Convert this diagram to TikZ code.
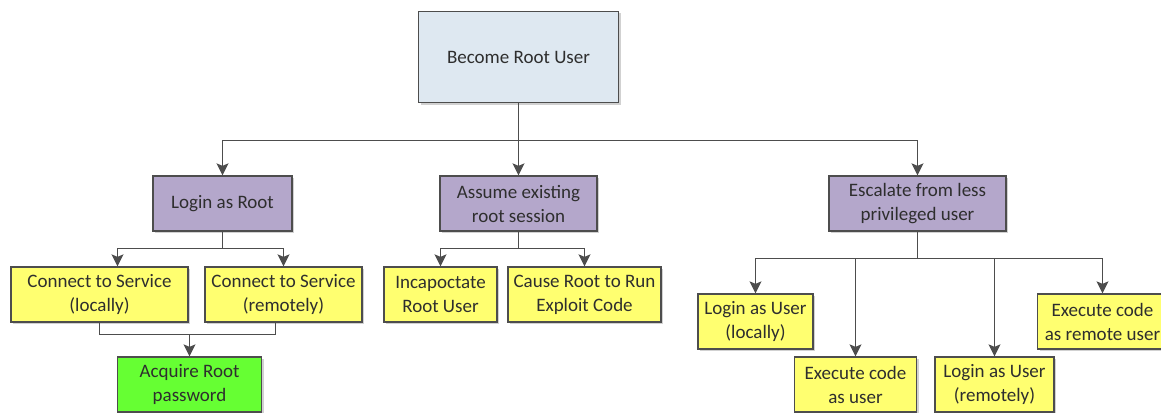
\documentclass[tikz,border=0pt]{standalone}
\usepackage{fontspec}
\setmainfont{Carlito}
\usetikzlibrary{arrows.meta,positioning,shadows}

\definecolor{linegray}{HTML}{4D4D4D}
\definecolor{textgray}{HTML}{2E2E2E}
\definecolor{rootblue}{HTML}{DEE8F1}
\definecolor{methodpurple}{HTML}{B4A7CB}
\definecolor{leafyellow}{HTML}{FFFF70}
\definecolor{keygreen}{HTML}{66FF33}

\begin{document}
\begin{tikzpicture}[%
        x=1pt, y=1pt,
        >={Stealth[length=12pt,width=12pt,inset=2.5pt]},
        on grid,
        box/.style={draw=linegray, line width=1.3pt, text=textgray,
                    align=center, inner sep=0pt, minimum height=55pt,
                    font=\fontsize{19}{24}\selectfont,
                    drop shadow={shadow xshift=2pt,shadow yshift=-2pt,
                                 fill=black,opacity=0.18}},
        rootbox/.style={box, fill=rootblue, minimum width=200pt, minimum height=91pt},
        methodbox/.style={box, fill=methodpurple},
        leafbox/.style={box, fill=leafyellow},
        keybox/.style={box, fill=keygreen},
        link/.style={draw=linegray, line width=1.3pt}
        ]

        \useasboundingbox (0,0) rectangle (1161,-412);

        \node[rootbox] (root) at (518.5,-57) {Become Root User};

        \node[methodbox, minimum width=139pt] (login)    [below left=146.5pt and 296pt of root]  {Login as Root};
        \node[methodbox, minimum width=157pt] (assume)   [below=146.5pt of root]                  {Assume existing\\root session};
        \node[methodbox, minimum width=177pt] (escalate) [below right=146.5pt and 399pt of root] {Escalate from less\\privileged user};

        \node[leafbox, minimum width=177pt] (svclocal)  [below left=91pt and 123pt of login]  {Connect to Service\\(locally)};
        \node[leafbox, minimum width=157pt] (svcremote) [below right=91pt and 61pt of login]  {Connect to Service\\(remotely)};
        \node[keybox, minimum width=144pt]  (password)  [below right=90pt and 90pt of svclocal] {Acquire Root\\password};

        \node[leafbox, minimum width=113pt] (incap) [below left=91pt and 78pt of assume]  {Incapoctate\\Root User};
        \node[leafbox, minimum width=153pt] (cause) [below right=91pt and 66pt of assume] {Cause Root to Run\\Exploit Code};

        \node[leafbox, minimum width=115pt] (userlocal)  [below left=118pt and 162pt of escalate]  {Login as User\\(locally)};
        \node[leafbox, minimum width=122pt] (execuser)   [below left=181pt and 62pt of escalate]   {Execute code\\as user};
        \node[leafbox, minimum width=119pt] (userremote) [below right=181pt and 77pt of escalate]  {Login as User\\(remotely)};
        \node[leafbox, minimum width=130pt] (execremote) [below right=118pt and 185pt of escalate] {Execute code\\as remote user};

        % fork points
        \coordinate (rootfork)   at ([yshift=-37pt]root.south);
        \coordinate (loginfork)  at ([yshift=-17pt]login.south);
        \coordinate (svcjoin)    at ([yshift=22pt]password.north);
        \coordinate (assumefork) at ([yshift=-17pt]assume.south);
        \coordinate (escfork)    at ([yshift=-27pt]escalate.south);

        % top level
        \path[link] (root.south) -- (rootfork);
        \path[link,->] (rootfork) -| (login.north);
        \path[link,->] (rootfork) -- (assume.north);
        \path[link,->] (rootfork) -| (escalate.north);

        % login as root
        \path[link] (login.south) -- (loginfork);
        \path[link,->] (loginfork) -| ([xshift=18pt]svclocal.north);
        \path[link,->] (loginfork) -| (svcremote.north);
        \path[link] (svclocal.south) |- (svcjoin);
        \path[link] ([xshift=-8pt]svcremote.south) |- (svcjoin);
        \path[link,->] (svcjoin) -- (password.north);

        % assume session
        \path[link] (assume.south) -- (assumefork);
        \path[link,->] (assumefork) -| (incap.north);
        \path[link,->] (assumefork) -| (cause.north);

        % escalate
        \path[link] (escalate.south) -- (escfork);
        \path[link,->] (escfork) -| (userlocal.north);
        \path[link,->] (escfork) -| (execuser.north);
        \path[link,->] (escfork) -| (userremote.north);
        \path[link,->] (escfork) -| (execremote.north);

        \end{tikzpicture}
\end{document}
